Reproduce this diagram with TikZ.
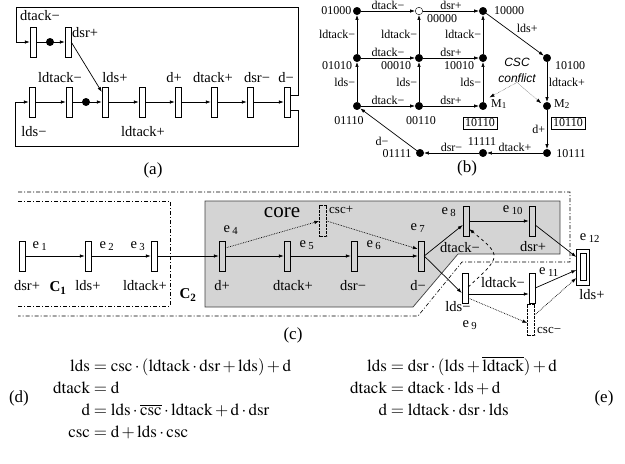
\documentclass[tikz,border=0pt]{standalone}
\usepackage{mathptmx}
\usepackage{fontspec}
\setmainfont{Liberation Serif}
\newfontfamily\notefont{Liberation Sans}
\usetikzlibrary{positioning,arrows.meta}

\newcommand{\evt}[1]{e\,\textsubscript{#1}}
\newcommand{\sig}[1]{\mathrm{#1}}

\begin{document}
\begin{tikzpicture}[
        x=1pt, y=-1pt,
        >={Latex[length=5pt,width=3.5pt]},
        trans/.style={rectangle, draw, inner sep=0pt, minimum width=6pt, minimum height=30pt},
        ghost/.style={trans, densely dotted, minimum width=7pt, minimum height=31pt},
        token/.style={circle, fill, inner sep=0pt, minimum size=8pt},
        state/.style={circle, draw, fill, inner sep=0pt, minimum size=7.5pt},
        lbl/.style={inner sep=1pt, font=\fontsize{14.5}{16}\selectfont},
        slbl/.style={inner sep=1.5pt, font=\fontsize{12}{14}\selectfont},
        caption/.style={inner sep=0pt, font=\fontsize{17}{20}\selectfont},
        eqn/.style={inner sep=0pt, font=\fontsize{17}{22}\selectfont},
        arc/.style={->, line width=0.7pt},
        dashdot/.style={line width=0.6pt, dash pattern=on 4pt off 2pt on 1pt off 2pt}
    ]
    \useasboundingbox (0,0) rectangle (625,464);

    \node[trans] (dtm) at (33,42) {};
    \node[trans] (dsp) at (68,42) {};
    \node[trans] (ldsm) at (32,102) {};
    \node[trans] (ldtm) at (69,102) {};
    \node[trans] (ldsp) at (105,102) {};
    \node[trans] (ldtp) at (142,102) {};
    \node[trans] (dp) at (178,102) {};
    \node[trans] (dtp) at (214,102) {};
    \node[trans] (dsrm) at (250,102) {};
    \node[trans] (dm) at (287,102) {};

    \draw[arc] (dtm) -- (dsp);
    \draw[arc] (dsp.east) -- ([yshift=10pt]ldsp.west);
    \draw[arc] (ldsm) -- (ldtm);
    \draw[arc] (ldtm) -- (ldsp);
    \draw[arc] (ldsp) -- (ldtp);
    \draw[arc] (ldtp) -- (dp);
    \draw[arc] (dp) -- (dtp);
    \draw[arc] (dtp) -- (dsrm);
    \draw[arc] (dsrm) -- (dm);
    \draw[arc] ([yshift=7pt]dm.east) -| (298,7) -| (16,42) -- (dtm);
    \draw[arc] ([yshift=-8pt]dm.east) -| (298,146) -| (15,102) -- (ldsm);
    \node[token] (tka) at (50,42) {};
    \node[token] (tkb) at (86,102) {};

    \node[lbl, anchor=west] (l-dtm) at (19,16) {dtack−};
    \node[lbl, anchor=west] (l-dsp) at (71,33) {dsr+};
    \node[lbl] (l-ldtm) at (60,78) {ldtack−};
    \node[lbl] (l-ldsp) at (115,78) {lds+};
    \node[lbl] (l-dp) at (174,78) {d+};
    \node[lbl] (l-dtp) at (213,78) {dtack+};
    \node[lbl] (l-dsrm) at (257,78) {dsr−};
    \node[lbl] (l-dm) at (286,78) {d−};
    \node[lbl] (l-ldsm) at (34,132) {lds−};
    \node[lbl] (l-ldtp) at (143,132) {ldtack+};
    \node[caption] (cap-a) at (153,170) {(a)};

    \node[state] (s01000) at (357,11) {};
    \node[state, fill=white] (s00000) at (419,11) {};
    \node[state] (s10000) at (483,11) {};
    \node[state] (s01010) at (357,58) {};
    \node[state] (s00010) at (419,58) {};
    \node[state] (s10010) at (483,58) {};
    \node[state] (s01110) at (357,106) {};
    \node[state] (s00110) at (419,106) {};
    \node[state] (m1) at (483,106) {};
    \node[state] (s10100) at (547,58) {};
    \node[state] (m2) at (547,106) {};
    \node[state] (s10111) at (547,153) {};
    \node[state] (s11111) at (483,153) {};
    \node[state] (s01111) at (420,153) {};

    \draw[arc] (s01000) -- node[slbl, above] {dtack−} (s00000);
    \draw[arc] (s00000) -- node[slbl, above] {dsr+} (s10000);
    \draw[arc] (s01010) -- node[slbl, above] {dtack−} (s00010);
    \draw[arc] (s00010) -- node[slbl, above] {dsr+} (s10010);
    \draw[arc] (s01110) -- node[slbl, above] {dtack−} (s00110);
    \draw[arc] (s00110) -- node[slbl, above] {dsr+} (m1);
    \draw[arc] (s01010) -- node[slbl, left] {ldtack−} (s01000);
    \draw[arc] (s00010) -- node[slbl, left] {ldtack−} (s00000);
    \draw[arc] (s10010) -- node[slbl, left] {ldtack−} (s10000);
    \draw[arc] (s01110) -- node[slbl, left] {lds−} (s01010);
    \draw[arc] (s00110) -- node[slbl, left] {lds−} (s00010);
    \draw[arc] (m1) -- node[slbl, left] {lds−} (s10010);
    \draw[arc] (s10000) -- node[slbl, above right] {lds+} (s10100);
    \draw[arc] (s10100) -- node[slbl, right] {ldtack+} (m2);
    \draw[arc] (m2) -- node[slbl, left] {d+} (s10111);
    \draw[arc] (s10111) -- node[slbl, above] {dtack+} (s11111);
    \draw[arc] (s11111) -- node[slbl, above] {dsr−} (s01111);
    \draw[arc] (s01111) -- (s01110);

    \node[slbl, anchor=east] (l-01000) at (353,11) {01000};
    \node[slbl] (l-00000) at (442,19) {00000};
    \node[slbl] (l-10000) at (509,11) {10000};
    \node[slbl] (l-01010) at (337,66) {01010};
    \node[slbl] (l-00010) at (396,66) {00010};
    \node[slbl] (l-10010) at (459,66) {10010};
    \node[slbl] (l-10100) at (570,66) {10100};
    \node[slbl] (l-01110) at (349,121) {01110};
    \node[slbl] (l-00110) at (421,121) {00110};
    \node[slbl] (l-m1) at (499,104) {M\textsubscript{1}};
    \node[slbl] (l-m2) at (562,104) {M\textsubscript{2}};
    \node[slbl, draw, inner sep=2pt] (c-m1) at (480,123) {10110};
    \node[slbl, draw, inner sep=2pt] (c-m2) at (568,123) {10110};
    \node[slbl] (l-d) at (382,141) {d−};
    \node[slbl] (l-01111) at (397,154) {01111};
    \node[slbl] (l-11111) at (482,142) {11111};
    \node[slbl] (l-10111) at (571,154) {10111};
    \node[align=center, inner sep=0pt, font=\notefont\itshape\fontsize{12}{16}\selectfont] (cscc) at (517,70) {CSC\\conflict};
    \draw[->, densely dotted] (cscc.south) -- (l-m1.north west);
    \draw[->, densely dotted] (cscc.south) -- ([xshift=-3pt]m2.north west);
    \node[caption] (cap-b) at (467,168) {(b)};

    \fill[black!17, draw=black!75, line width=0.7pt] (205,201) -- (560,201) -- (560,254) -- (458,254) -- (413,307) -- (205,307) -- cycle;
    \draw[dashdot] (18,192) -- (570,192) -- (570,262) -- (462,262) -- (418,316) -- (18,316);
    \draw[dashdot] (18,201) -- (170,201) -- (170,306) -- (18,306);

    \node[trans] (e1) at (22,256) {};
    \node[trans] (e2) at (88,256) {};
    \node[trans] (e3) at (154,256) {};
    \node[trans] (e4) at (222,256) {};
    \node[trans] (e5) at (287,256) {};
    \node[trans] (e6) at (354,256) {};
    \node[trans] (e7) at (421,256) {};
    \node[trans] (e8) at (466,221) {};
    \node[trans] (e10) at (532,221) {};
    \node[trans] (e9) at (465,288) {};
    \node[trans] (e11) at (532,288) {};
    \node[trans, minimum width=13pt, minimum height=36pt] (e12) at (583,267) {};
    \node[trans, minimum height=27pt] (e12i) at (583,267) {};
    \node[ghost] (cscp) at (323,221) {};
    \node[ghost] (cscm) at (531,320) {};

    \draw[arc] (e1) -- (e2);
    \draw[arc] (e2) -- (e3);
    \draw[arc] (e3) -- (e4);
    \draw[arc] (e4) -- (e5);
    \draw[arc] (e5) -- (e6);
    \draw[arc] (e6) -- (e7);
    \draw[arc] (e7.east) -- ([yshift=-4pt]e8.west);
    \draw[arc] (e7.east) -- ([yshift=-5pt]e9.west);
    \draw[arc] (e8) -- (e10);
    \draw[arc] ([yshift=-6pt]e9.east) -- ([yshift=-6pt]e11.west);
    \draw[arc] ([yshift=-4pt]e10.east) -- ([yshift=10pt]e12.west);
    \draw[arc] (e11.east) -- ([yshift=-3pt]e12.west);
    \draw[arc, densely dotted] ([yshift=8pt]e4.east) -- (cscp.west);
    \draw[arc, densely dotted] (cscp.east) -- ([yshift=7pt]e7.west);
    \draw[arc, densely dotted] ([yshift=-10pt]e9.east) -- ([yshift=-3pt]cscm.west);
    \draw[arc, densely dotted] ([yshift=5pt]cscm.east) -- ([yshift=-11pt]e12.west);
    \draw[arc, dashed] ([yshift=1pt]e9.east) .. controls (502,256) .. ([yshift=-8pt]e8.east);

    \node[lbl] (le1) at (40,246) {\evt{1}};
    \node[lbl] (le2) at (107,246) {\evt{2}};
    \node[lbl] (le3) at (138,246) {\evt{3}};
    \node[lbl] (le4) at (231,230) {\evt{4}};
    \node[lbl] (le5) at (307,245) {\evt{5}};
    \node[lbl] (le6) at (374,245) {\evt{6}};
    \node[lbl] (le7) at (418,228) {\evt{7}};
    \node[lbl] (le8) at (449,212) {\evt{8}};
    \node[lbl] (le10) at (513,210) {\evt{10}};
    \node[lbl] (le11) at (549,272) {\evt{11}};
    \node[lbl] (le12) at (590,238) {\evt{12}};
    \node[lbl] (le9) at (470,325) {\evt{9}};

    \node[lbl] (l-e1) at (27,286) {dsr+};
    \node[lbl] (l-e2) at (88,286) {lds+};
    \node[lbl] (l-e3) at (145,286) {ldtack+};
    \node[lbl] (l-e4) at (222,286) {d+};
    \node[lbl] (l-e5) at (293,286) {dtack+};
    \node[lbl] (l-e6) at (353,286) {dsr−};
    \node[lbl] (l-e7) at (418,286) {d−};
    \node[lbl] (l-e8) at (460,248) {dtack−};
    \node[lbl] (l-e10) at (533,247) {dsr+};
    \node[lbl] (l-e11) at (503,283) {ldtack−};
    \node[lbl] (l-e9) at (458,307) {lds−};
    \node[lbl] (l-e12) at (592,295) {lds+};
    \node[lbl, anchor=west, font=\fontsize{13}{15}\selectfont] (l-cscp) at (328,210) {csc+};
    \node[lbl, anchor=west, font=\fontsize{13}{15}\selectfont] (l-cscm) at (536,330) {csc−};
    \node[lbl, font=\bfseries\fontsize{15}{17}\selectfont] (l-c1) at (58,288) {C\textsubscript{1}};
    \node[lbl, font=\bfseries\fontsize{15}{17}\selectfont] (l-c2) at (188,295) {C\textsubscript{2}};
    \node[inner sep=0pt, font=\fontsize{21}{24}\selectfont] (l-core) at (282,213) {core};
    \node[caption] (cap-c) at (293,335) {(c)};

    \node[eqn, anchor=north west] (eq-d) at (53,356) {$\begin{array}{@{}r@{\;=\;}l@{}}
        \sig{lds} & \sig{csc}\cdot(\sig{ldtack}\cdot\sig{dsr}+\sig{lds})+\sig{d}\\
        \sig{dtack} & \sig{d}\\
        \sig{d} & \sig{lds}\cdot\overline{\sig{csc}}\cdot\sig{ldtack}+\sig{d}\cdot\sig{dsr}\\
        \sig{csc} & \sig{d}+\sig{lds}\cdot\sig{csc}
    \end{array}$};
    \node[eqn, anchor=north west] (eq-e) at (350,356) {$\begin{array}{@{}r@{\;=\;}l@{}}
        \sig{lds} & \sig{dsr}\cdot(\sig{lds}+\overline{\sig{ldtack}})+\sig{d}\\
        \sig{dtack} & \sig{dtack}\cdot\sig{lds}+\sig{d}\\
        \sig{d} & \sig{ldtack}\cdot\sig{dsr}\cdot\sig{lds}
    \end{array}$};
    \node[caption] (cap-d) at (19,398) {(d)};
    \node[caption] (cap-e) at (604,398) {(e)};
\end{tikzpicture}
\end{document}
